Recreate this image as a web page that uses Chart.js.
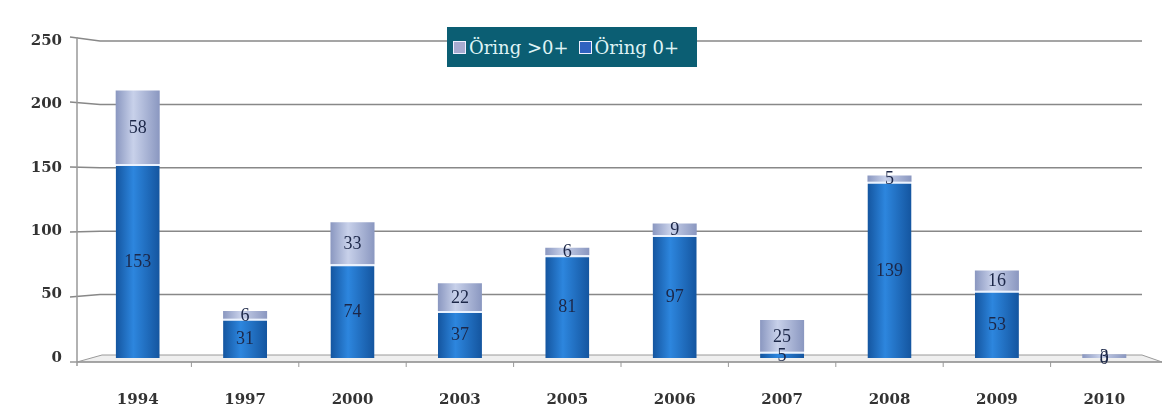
<!DOCTYPE html>
<html>
<head>
<meta charset="utf-8">
<script src="https://cdn.jsdelivr.net/npm/chart.js@4.4.0/dist/chart.umd.min.js"></script>
<style>
  body { margin: 0; background: #fff; }
  #wrap { position: relative; width: 1164px; height: 410px; }
  #legend {
    position: absolute; left: 447px; top: 27px; width: 250px; height: 40px;
    background: #0b5e73; color: #dff3f5; font-family: 'DejaVu Serif', serif;
    font-size: 18px; display: flex; align-items: center; padding-left: 6px; box-sizing: border-box;
    white-space: nowrap;
  }
  #legend .sw { display: inline-block; width: 11px; height: 11px; border: 1px solid #eef; margin-right: 3px; flex: none; }
  #legend .item { margin-right: 10px; display: flex; align-items: center; flex: none; }
</style>
</head>
<body>
<div id="wrap">
  <canvas id="chart" width="1164" height="410"></canvas>
  <div id="legend">
    <span class="item"><span class="sw" style="background:#a7abd0"></span>Öring &gt;0+</span>
    <span class="item"><span class="sw" style="background:#2f62c0"></span>Öring 0+</span>
  </div>
</div>
<script>
const years = ['1994', '1997', '2000', '2003', '2005', '2006', '2007', '2008', '2009', '2010'];
const oring0 = [153, 31, 74, 37, 81, 97, 5, 139, 53, 0];
const oringOver0 = [58, 6, 33, 22, 6, 9, 25, 5, 16, 3];
const yTicks = [0, 50, 100, 150, 200, 250];
const barPct = 0.41;

function cylinder(ctx, dark, light) {
    const chart = ctx.chart;
    const xs = chart.scales.x;
    if (!chart.chartArea || !xs || xs.width === 0) return light;
    const cx = xs.getPixelForValue(ctx.dataIndex);
    const half = xs.width / years.length * barPct / 2;
    const g = chart.ctx.createLinearGradient(cx - half, 0, cx + half, 0);
    g.addColorStop(0, dark);
    g.addColorStop(0.4, light);
    g.addColorStop(1, dark);
    return g;
}

// back wall gridlines, left slant, floor and x tick marks
const wallPlugin = {
    id: 'wall',
    beforeDatasetsDraw(chart) {
        const c = chart.ctx;
        const y = chart.scales.y;
        const x = chart.scales.x;
        const front = v => 1.0252 * v - 5.03;
        c.save();
        const yb = y.getPixelForValue(0);
        // floor
        c.fillStyle = '#efefef';
        c.strokeStyle = '#9a9a9a';
        c.lineWidth = 1;
        c.beginPath();
        c.moveTo(77, front(yb));
        c.lineTo(102, yb - 3);
        c.lineTo(1142, yb - 3);
        c.lineTo(1162, front(yb));
        c.closePath();
        c.fill();
        c.stroke();
        // gridlines
        c.strokeStyle = '#888888';
        c.lineWidth = 1.5;
        yTicks.forEach(v => {
            if (v === 0) return;
            const py = y.getPixelForValue(v);
            c.beginPath();
            c.moveTo(70, front(py));
            c.lineTo(100, py);
            c.lineTo(1142, py);
            c.stroke();
        });
        // y axis and front floor edge
        c.strokeStyle = '#999999';
        c.lineWidth = 1.5;
        c.beginPath();
        c.moveTo(77, front(y.getPixelForValue(250)));
        c.lineTo(77, front(yb) + 4);
        c.stroke();
        c.beginPath();
        c.moveTo(70, front(yb));
        c.lineTo(1162, front(yb));
        c.stroke();
        // x tick marks between categories
        c.lineWidth = 1;
        for (let i = 1; i < years.length; i++) {
            const px = (x.getPixelForValue(i - 1) + x.getPixelForValue(i)) / 2;
            c.beginPath();
            c.moveTo(px, front(yb));
            c.lineTo(px, front(yb) + 5);
            c.stroke();
        }
        c.restore();
    }
};

const labelPlugin = {
    id: 'valueLabels',
    afterDatasetsDraw(chart) {
        const c = chart.ctx;
        c.save();
        c.font = '18px "Liberation Serif", serif';
        c.fillStyle = '#1c2748';
        c.textAlign = 'center';
        c.textBaseline = 'middle';
        chart.data.datasets.forEach((ds, di) => {
            const meta = chart.getDatasetMeta(di);
            meta.data.forEach((bar, i) => {
                const mid = (bar.y + bar.base) / 2;
                c.fillText(String(ds.data[i]), bar.x, mid + 1);
            });
        });
        c.restore();
    }
};

new Chart(document.getElementById('chart'), {
    type: 'bar',
    data: {
        labels: years,
        datasets: [{
            label: 'Öring 0+',
            data: oring0,
            backgroundColor: ctx => cylinder(ctx, '#14559f', '#2d86de'),
            borderColor: '#eaf2ff',
            borderWidth: { top: 2, left: 0, right: 0, bottom: 0 },
            borderSkipped: false,
            categoryPercentage: 1,
            barPercentage: barPct
        }, {
            label: 'Öring >0+',
            data: oringOver0,
            backgroundColor: ctx => cylinder(ctx, '#8a97c0', '#c8d1ea'),
            borderWidth: 0,
            categoryPercentage: 1,
            barPercentage: barPct
        }]
    },
    options: {
        responsive: false,
        animation: false,
        layout: { padding: { top: 41, right: 6, left: 0, bottom: 0 } },
        plugins: { legend: { display: false }, tooltip: { enabled: false } },
        scales: {
            x: {
                stacked: true,
                grid: { display: false },
                border: { display: false },
                ticks: { color: '#333', font: { family: 'DejaVu Serif', size: 15, weight: 'bold' }, padding: 25 },
                afterFit: s => { s.height = 52; }
            },
            y: {
                stacked: true,
                min: 0,
                max: 250,
                ticks: { stepSize: 50, color: '#333', font: { family: 'DejaVu Serif', size: 15, weight: 'bold' }, padding: 14 },
                grid: { display: false },
                border: { display: false },
                afterFit: s => { s.width = 84; }
            }
        }
    },
    plugins: [wallPlugin, labelPlugin]
});
</script>
</body>
</html>
